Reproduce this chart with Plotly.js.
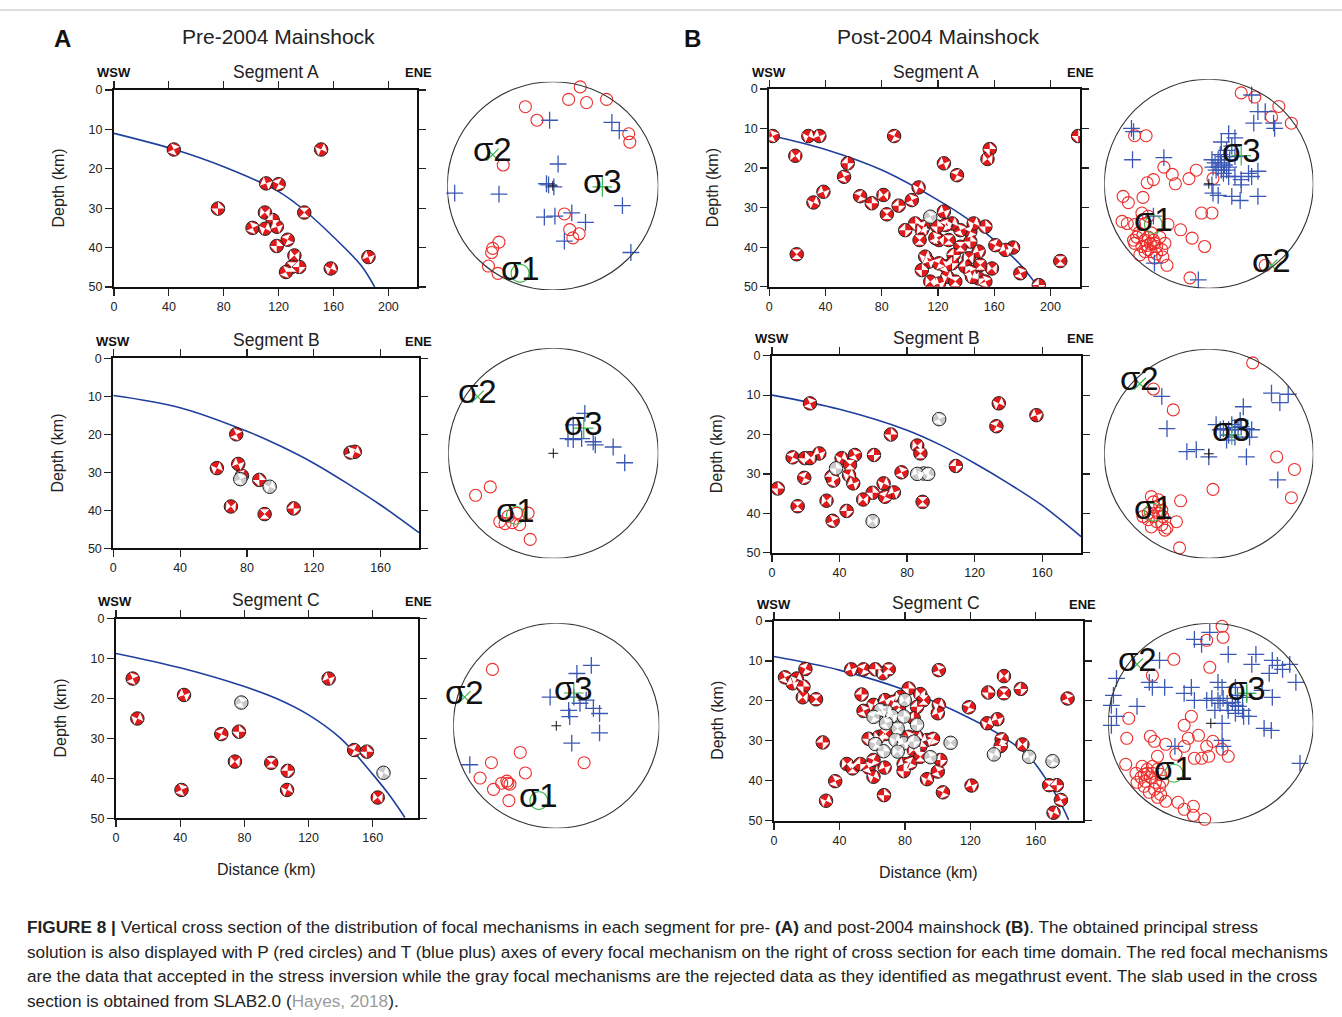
<!DOCTYPE html>
<html><head><meta charset="utf-8">
<script src="https://cdn.plot.ly/plotly-3.0.1.min.js"></script>
<style>html,body{margin:0;padding:0;background:#fff}#chart{width:1342px;height:1017px}</style>
</head><body><div id="chart"></div>
<script>
// ---------------- DATA: cross sections (distance km, depth km) ----------------
const preA_x = [43.6,151,110.9,120,75.8,110,138.7,115.7,101,110.2,118.7,126.6,118.6,131.5,129.5,135,125.4,158,185.5];
const preA_d = [15.1,15.1,23.7,23.9,30.1,31.1,31.1,33,35,35.2,34.7,38,39.6,42,44.9,44.9,46.2,45.3,42.4];
const preA_gx = [];
const preA_gd = [];
const preA_slabX = [0,43,80,120,140,160,180,190];
const preA_slabD = [11,15,19.5,25.8,30.9,37.3,44.5,50];

const preB_x = [73.6,62,74.8,77,87.4,70.4,90.6,108,142,144.6];
const preB_d = [20,28.9,27.8,30.9,32,39,41,39.5,24.8,24.6];
const preB_gx = [76,93.6];
const preB_gd = [31.8,33.8];
const preB_slabX = [0,40,80,100,120,140,160,183];
const preB_slabD = [9.8,13.0,19.2,23.1,27.6,32.9,38.6,45.9];

const preC_x = [10.4,13.3,42.4,65.6,76.6,74.1,96.7,107,40.8,106.6,132.5,148.4,156.3,163.1];
const preC_d = [15,25,19.1,28.9,28.3,35.8,36.1,38.1,42.9,42.9,15,32.9,33.3,44.8];
const preC_gx = [78.1,166.7];
const preC_gd = [21,38.6];
const preC_slabX = [0,40,80,100,120,140,160,170,180];
const preC_slabD = [8.7,12.3,17,20,24.1,30,39,44,49.8];

const postA_x = [2.4,27.8,35.6,88.8,219.7,18.5,19.5,55.8,53.2,31.4,38.5,64.6,72.9,81.2,83.6,92,101.4,106.2,124.2,133.5,156.8,155.2,207,191.7,178.6,173.4,168,160.8,153.7,158.4,150.1,148.9,153.7,144.2,148.9,143,143,141.8,135.9,131.1,135.9,130,124.2,125.4,119.5,120.7,127.6,130,125.4,126.6,120.7,109.7,103.8,108.5,106.9,96.7,118.1,110.9,113.3,120.7,108.5,114.5,132.3,139.4,143,145.4];
const postA_d = [11.9,11.9,11.9,11.9,11.9,16.9,41.8,18.8,22.2,28.7,26,27.1,28.9,26.8,31.7,29.5,28.1,24.9,18.8,21.8,15.2,17.7,43.5,49.6,46.6,40.1,40.7,39.5,34.8,45.4,44.5,47.9,48.7,47.5,41.1,36.1,38.6,42.8,39.9,42,35.7,34,31,34.4,34.8,38.2,38.2,44.1,44.9,47.5,49.2,34.8,34,35.7,38.2,35.7,37.7,42.4,43.7,44.1,45.8,48.7,48.7,44.9,46.2,34];
const postA_gx = [114.5];
const postA_gd = [32.3];
const postA_slabX = [0,40,80,120,140,160,180,191];
const postA_slabD = [11.7,15.3,20.5,28.1,32.6,38.2,45,50];

const postB_x = [22.5,134.3,156.6,132.9,70.4,86,87.9,108.9,76.7,66.1,72.2,66.9,59.6,54,89.2,60.4,49.1,41.2,28,12.2,19.5,22.5,46.2,35.3,36.3,45.6,48.1,19.1,3.4,32.3,15.2,44.2,35.9];
const postB_d = [12.1,12.1,15.1,17.9,20,22.8,24.8,28,29.6,32.4,34.7,35.8,34.8,36.5,37.1,25.2,25.2,26,24.8,25.8,26,26,27.7,30.7,31.7,30.3,32.4,31,33.7,36.8,38.2,39.4,41.9];
const postB_gx = [99,89.9,86,92.5,37.9,59.6];
const postB_gd = [16.1,29.9,30,30,28.6,42];
const postB_slabX = [0,40,80,100,120,140,160,183];
const postB_slabD = [10,13.6,18.9,22.7,27.3,32.4,38,45.9];

const postC_x = [6.7,13.9,11.4,19.2,18,17.6,25.7,29.8,37.4,31.8,47.2,54.7,61.9,66.6,70.1,53.5,54.7,60.8,67.9,73.1,82.3,89.4,91.4,87.4,100.7,100.7,100.1,119.1,130.9,140.5,140.5,150.8,179.4,130.3,136.5,139.1,138.5,151.8,168.1,172.8,175.3,170.8,120.7,103.2,67.2,44.5,48,52.7,57.8,60.8,67.6,60.8,57.8,64.1,68,77.2,82.3,87.4,93.5,97.2,89.4,85.4,89.4,101.7,100.1,93.5,79.2,83.3,79.2,77.2,76.4,85.4];
const postC_d = [14.1,14.4,15.6,12,16.4,19.1,19.6,30.4,40.1,45,12.1,12.1,12.1,13.1,12.1,18.4,22.5,21,19.8,20.2,16.9,18.3,19.8,21.5,12.3,21,23.1,21.6,17.9,13.8,18.1,17,19.4,25.6,24.6,29.6,31.3,30.9,41.1,41.1,44.8,48,41.2,42.9,43.6,35.8,36.9,35.8,36.7,39,36.7,34.8,29.5,29,28.3,28.7,29,29,29.8,29.5,31.5,32.3,34,34.8,37.7,39.6,35.8,35.6,37.6,19,21.6,24.4];
const postC_gx = [65,69,72.1,60.8,79.3,79.9,75.6,87.4,68.4,74.2,79.3,61.9,67,75.6,107.9,85.4,95.6,134.4,155.9,170.2];
const postC_gd = [22.3,22.7,23.8,24,23.9,19.8,26.9,26,25.6,29.8,30.6,30.8,32.6,32.7,30.5,30.2,34.1,33.4,34,35.1];
const postC_slabX = [0,40,80,120,140,156,170,175,180];
const postC_slabD = [8.9,12.3,17.3,24.4,29.0,34,42,45.5,49.8];

// ---------------- DATA: stereonets (normalized projection coords) ----------------
const sA1_Px = [0.26,0.15,0.32,0.51,-0.26,-0.15,0.72,0.73,-0.47,0.11,0.16,0.25,0.19,-0.51,-0.57,-0.58,-0.61,-0.52];
const sA1_Py = [0.95,0.83,0.80,0.83,0.76,0.63,0.50,0.42,0.20,-0.27,-0.42,-0.46,-0.50,-0.54,-0.60,-0.64,-0.77,-0.84];
const sA1_Tx = [-0.03,0.56,0.63,0.05,-0.06,-0.04,0.01,-0.93,-0.51,0.66,-0.08,0.02,0.18,0.31,0.11,0.74];
const sA1_Ty = [0.63,0.61,0.53,0.21,0.02,0.01,-0.01,-0.07,-0.08,-0.19,-0.30,-0.29,-0.26,-0.35,-0.53,-0.64];
const sA1_Sx = [-0.31,-0.57,0.47];
const sA1_Sy = [-0.84,0.30,-0.01];

const sA2_Px = [-0.74,-0.60,-0.51,-0.46,-0.39,-0.32,-0.35,-0.24,-0.22,-0.43];
const sA2_Py = [-0.40,-0.32,-0.65,-0.67,-0.66,-0.68,-0.57,-0.57,-0.82,-0.60];
const sA2_Tx = [0.30,0.19,0.14,0.19,0.27,0.38,0.40,0.57,0.68];
const sA2_Ty = [0.38,0.27,0.14,0.13,0.14,0.11,0.08,0.06,-0.09];
const sA2_Sx = [-0.36,-0.72,0.29];
const sA2_Sy = [-0.59,0.54,0.24];

const sA3_Px = [-0.62,-0.35,-0.63,-0.30,-0.74,-0.61,-0.53,-0.48,-0.47,-0.45,-0.46,0.27];
const sA3_Py = [0.55,-0.26,-0.36,-0.46,-0.51,-0.62,-0.56,-0.54,-0.56,-0.57,-0.73,-0.36];
const sA3_Tx = [0.34,0.20,-0.06,0.17,0.29,0.12,0.36,0.42,0.13,0.42,0.15,-0.84,0.23];
const sA3_Ty = [0.59,0.51,0.28,0.28,0.25,0.15,0.17,0.12,0.09,-0.07,-0.17,-0.38,0.22];
const sA3_Sx = [-0.17,-0.89,0.17];
const sA3_Sy = [-0.73,0.28,0.32];

const sB1_Px = [0.31,0.44,0.67,0.79,0.60,-0.71,-0.60,-0.43,-0.35,-0.32,-0.59,-0.53,-0.19,-0.12,0.04,-0.07,0.03,-0.82,-0.77,-0.63,-0.83,-0.78,-0.71,-0.61,-0.39,-0.27,-0.16,-0.04,-0.44,-0.40,-0.18,0.54,-0.58,-0.64,-0.69,-0.61,-0.55,-0.64,-0.58,-0.50,-0.66,-0.71,-0.67,-0.63,-0.58,-0.56,-0.61,-0.53,-0.59,-0.50,-0.72,-0.55,-0.52,-0.45,-0.42,-0.47,-0.52];
const sB1_Py = [0.87,0.83,0.74,0.58,0.64,0.46,0.46,0.16,0.09,0.00,0.01,0.04,0.05,0.13,0.05,-0.28,-0.28,-0.12,-0.18,-0.13,-0.36,-0.38,-0.39,-0.38,-0.39,-0.44,-0.52,-0.60,-0.70,-0.78,-0.90,-0.78,-0.31,-0.28,-0.51,-0.54,-0.47,-0.60,-0.63,-0.67,-0.68,-0.57,-0.47,-0.49,-0.51,-0.57,-0.65,-0.54,-0.59,-0.60,-0.54,-0.65,-0.71,-0.63,-0.57,-0.51,-0.57];
const sB1_Tx = [0.41,0.47,0.54,0.62,0.63,0.43,-0.74,-0.72,-0.73,-0.43,0.19,0.25,0.12,0.22,0.03,0.06,0.09,0.12,0.15,0.19,0.12,0.17,0.09,0.04,0.07,0.14,0.19,0.25,0.31,0.41,0.47,0.38,0.31,0.03,0.04,0.09,0.22,0.30,0.47,-0.53,-0.52,-0.10,0.15,0.20,0.11,0.25,0.17];
const sB1_Ty = [0.85,0.69,0.69,0.58,0.53,0.58,0.53,0.50,0.23,0.25,0.48,0.44,0.40,0.36,0.23,0.20,0.16,0.20,0.18,0.16,0.13,0.13,0.23,0.16,0.13,0.10,0.07,0.07,0.04,0.07,0.12,0.10,-0.01,-0.01,-0.09,-0.11,-0.12,-0.16,-0.12,-0.31,-0.76,-0.92,0.26,0.23,0.28,0.26,0.32];
const sB1_Sx = [-0.53,0.60,0.31];
const sB1_Sy = [-0.39,-0.78,0.27];

const sB2_Px = [0.42,-0.53,-0.34,0.65,0.82,0.79,0.04,-0.27,-0.28,-0.31,-0.40,-0.55,-0.48,-0.52,-0.58,-0.53,-0.48,-0.45,-0.50,-0.45,-0.42,-0.58,-0.63,-0.55,-0.47,-0.53,-0.44];
const sB2_Py = [0.87,0.62,0.42,-0.03,-0.15,-0.42,-0.34,-0.45,-0.90,-0.65,-0.71,-0.41,-0.44,-0.51,-0.57,-0.60,-0.57,-0.54,-0.65,-0.68,-0.73,-0.63,-0.60,-0.70,-0.49,-0.46,-0.60];
const sB2_Tx = [-0.45,-0.40,-0.21,-0.12,0.00,0.33,0.07,0.14,0.19,0.22,0.25,0.28,0.31,0.36,0.39,0.41,0.19,0.25,0.36,0.60,0.68,0.76,0.66,0.30,0.11,0.17];
const sB2_Ty = [0.55,0.24,0.02,0.04,-0.03,0.45,0.28,0.24,0.23,0.28,0.25,0.23,0.26,0.24,0.16,0.23,0.18,0.16,-0.03,0.58,0.49,0.57,-0.25,0.32,0.23,0.13];
const sB2_Sx = [-0.53,-0.66,0.22];
const sB2_Sy = [-0.56,0.67,0.18];

const sB3_Px = [0.11,0.12,-0.04,-0.36,-0.01,-0.57,-0.80,-0.19,-0.26,-0.12,-0.82,-0.59,-0.55,-0.44,-0.22,-0.04,0.02,0.11,0.17,-0.09,-0.02,-0.83,-0.73,-0.67,-0.62,-0.59,-0.54,-0.65,-0.49,-0.44,-0.32,-0.26,-0.17,-0.17,-0.06,-0.52,-0.34,-0.26,-0.16,-0.62,-0.57,-0.52,-0.49,-0.68,-0.64,-0.55,-0.60,-0.50,-0.47,-0.57,-0.65,-0.52,-0.72];
const sB3_Py = [0.97,0.86,0.83,0.64,0.56,0.48,0.05,0.07,-0.02,-0.12,-0.15,-0.13,-0.18,-0.21,-0.15,-0.23,-0.18,-0.26,-0.33,-0.35,-0.33,-0.41,-0.50,-0.43,-0.50,-0.54,-0.59,-0.63,-0.71,-0.78,-0.79,-0.86,-0.83,-0.92,-0.96,-0.33,-0.31,-0.23,-0.35,-0.46,-0.43,-0.46,-0.51,-0.54,-0.58,-0.66,-0.69,-0.63,-0.58,-0.50,-0.51,-0.74,-0.59];
const sB3_Tx = [-0.01,-0.16,-0.09,0.17,0.44,0.40,0.60,0.65,0.57,0.70,0.77,0.83,-0.50,-0.92,-0.60,-0.57,-0.45,-0.19,-0.26,-0.16,-0.95,-0.97,-0.72,-0.92,-0.97,-0.04,0.01,0.07,0.12,0.09,0.16,0.21,0.24,0.27,0.31,0.17,0.24,0.32,0.37,0.52,0.59,0.11,0.11,0.12,-0.35,0.87,0.24,0.26,0.31,0.07,0.11,0.35,0.60,0.50,0.04];
const sB3_Ty = [0.91,0.84,0.79,0.69,0.69,0.59,0.63,0.58,0.50,0.54,0.59,0.41,0.63,0.45,0.41,0.36,0.36,0.36,0.30,0.23,0.28,0.18,0.17,0.07,-0.02,0.23,0.25,0.23,0.25,0.20,0.20,0.21,0.18,0.17,0.13,0.13,0.10,0.07,0.07,-0.05,-0.07,0.00,-0.17,-0.23,-0.23,-0.40,0.36,0.28,0.26,0.41,0.36,0.30,0.26,0.33,0.13];
const sB3_Sx = [-0.36,-0.72,0.35];
const sB3_Sy = [-0.50,0.59,0.30];

const sigmaLabels = ['σ1','σ2','σ3'];

// ---------------- LAYOUT HELPERS ----------------
const W = 1342, H = 1017;
const FONT = 'Liberation Sans, Arial, Helvetica, sans-serif';
const px = v => v / W;
const py = v => 1 - v / H;
const RED = '#e31a1c', GRAY = '#c9c9c9', SLAB = '#1f3f9c';
const ANG = [20, 70, 115, 160, 45, 95, 0, 135];

const sections = [
  {n:1, box:[114,416.5,90,287], xmax:220.5, seg:'Segment A', x:preA_x, d:preA_d, gx:preA_gx, gd:preA_gd, sx:preA_slabX, sd:preA_slabD, head:[114,276,418,73]},
  {n:2, box:[113.3,419,358.3,548.3], xmax:183, seg:'Segment B', x:preB_x, d:preB_d, gx:preB_gx, gd:preB_gd, sx:preB_slabX, sd:preB_slabD, head:[113,276,418,341]},
  {n:3, box:[116,417.7,618.7,818.3], xmax:188, seg:'Segment C', x:preC_x, d:preC_d, gx:preC_gx, gd:preC_gd, sx:preC_slabX, sd:preC_slabD, head:[115,276,418,601]},
  {n:4, box:[769.3,1080,89,286.7], xmax:221, seg:'Segment A', x:postA_x, d:postA_d, gx:postA_gx, gd:postA_gd, sx:postA_slabX, sd:postA_slabD, head:[769,936,1080,73]},
  {n:5, box:[772,1081,355.7,552.7], xmax:183, seg:'Segment B', x:postB_x, d:postB_d, gx:postB_gx, gd:postB_gd, sx:postB_slabX, sd:postB_slabD, head:[772,936,1080,339]},
  {n:6, box:[774,1083.3,621,820.7], xmax:189, seg:'Segment C', x:postC_x, d:postC_d, gx:postC_gx, gd:postC_gd, sx:postC_slabX, sd:postC_slabD, head:[774,936,1082,604]}
];
const stereos = [
  {n:7,  box:[447.3,658.3,81.7,290],    Px:sA1_Px, Py:sA1_Py, Tx:sA1_Tx, Ty:sA1_Ty, Sx:sA1_Sx, Sy:sA1_Sy},
  {n:8,  box:[448.3,658.3,348.3,558.3], Px:sA2_Px, Py:sA2_Py, Tx:sA2_Tx, Ty:sA2_Ty, Sx:sA2_Sx, Sy:sA2_Sy},
  {n:9,  box:[453.3,659.3,623.3,828.3], Px:sA3_Px, Py:sA3_Py, Tx:sA3_Tx, Ty:sA3_Ty, Sx:sA3_Sx, Sy:sA3_Sy},
  {n:10, box:[1104.3,1313.3,79.3,288.3], Px:sB1_Px, Py:sB1_Py, Tx:sB1_Tx, Ty:sB1_Ty, Sx:sB1_Sx, Sy:sB1_Sy},
  {n:11, box:[1104.3,1313.3,349.3,558.3], Px:sB2_Px, Py:sB2_Py, Tx:sB2_Tx, Ty:sB2_Ty, Sx:sB2_Sx, Sy:sB2_Sy},
  {n:12, box:[1108.3,1313.3,623.3,823.3], Px:sB3_Px, Py:sB3_Py, Tx:sB3_Tx, Ty:sB3_Ty, Sx:sB3_Sx, Sy:sB3_Sy}
];

const traces = [];
const layout = {
  width: W, height: H, margin: {l:0, r:0, t:0, b:0},
  paper_bgcolor: '#fff', plot_bgcolor: '#fff', showlegend: false,
  font: {family: FONT, color: '#222'},
  annotations: [], shapes: []
};
const ax = n => (n === 1 ? '' : n);
// paper-positioned text annotation (pixel coordinates of its centre)
function txt(x, y, text, size, extra) {
  return Object.assign({xref:'paper', yref:'paper', x:px(x), y:py(y), xanchor:'center', yanchor:'middle',
    text:text, showarrow:false, font:{size:size, color:'#222'}}, extra || {});
}

function ballTraces(xs, ds, n, fill) {
  const xa = 'x' + ax(n), ya = 'y' + ax(n);
  traces.push({type:'scatter', mode:'markers', x:xs, y:ds, xaxis:xa, yaxis:ya, hoverinfo:'skip',
    marker:{symbol:'circle', size:13.5, color:fill, line:{color:'#222', width:1}}});
  traces.push({type:'scatter', mode:'markers', x:xs, y:ds, xaxis:xa, yaxis:ya, hoverinfo:'skip',
    marker:{symbol:'hourglass', size:9.5, color:'#fff', angle: xs.map((_, i) => ANG[i % ANG.length]), line:{width:0}}});
}

sections.forEach(s => {
  const [l, r, t, b] = s.box;
  const k = ax(s.n);
  layout['xaxis' + k] = {domain:[px(l), px(r)], range:[0, s.xmax], anchor:'y' + k, tick0:0, dtick:40,
    ticks:'outside', ticklen:7, tickwidth:1.2, tickcolor:'#222', showline:true, linewidth:2, linecolor:'#111',
    mirror:'ticks', showgrid:false, zeroline:false, tickfont:{size:12.5, color:'#222'}, fixedrange:true};
  layout['yaxis' + k] = {domain:[py(b), py(t)], range:[50, 0], anchor:'x' + k, tick0:0, dtick:10,
    ticks:'outside', ticklen:7, tickwidth:1.2, tickcolor:'#222', showline:true, linewidth:2, linecolor:'#111',
    mirror:'ticks', showgrid:false, zeroline:false, tickfont:{size:12.5, color:'#222'}, fixedrange:true};
  traces.push({type:'scatter', mode:'lines', x:s.sx, y:s.sd, xaxis:'x' + k, yaxis:'y' + k, hoverinfo:'skip',
    line:{color:SLAB, width:1.6, shape:'spline', smoothing:1}});
  ballTraces(s.x, s.d, s.n, RED);
  if (s.gx.length) ballTraces(s.gx, s.gd, s.n, GRAY);
  const [hw, hs, he, hy] = s.head;
  layout.annotations.push(
    txt(hw, hy, '<b>WSW</b>', 13, {font:{size:13, color:'#111'}}),
    txt(hs, hy - 1, s.seg, 17.5),
    txt(he, hy, '<b>ENE</b>', 13, {font:{size:13, color:'#111'}}),
    txt(l - 56, (t + b) / 2, 'Depth (km)', 16, {textangle:-90})
  );
});

stereos.forEach(s => {
  const [l, r, t, b] = s.box;
  const k = s.n, xa = 'x' + k, ya = 'y' + k;
  layout['xaxis' + k] = {domain:[px(l), px(r)], range:[-1, 1], anchor:ya, visible:false, fixedrange:true};
  layout['yaxis' + k] = {domain:[py(b), py(t)], range:[-1, 1], anchor:xa, visible:false, fixedrange:true};
  layout.shapes.push({type:'circle', xref:xa, yref:ya, x0:-1, x1:1, y0:-1, y1:1, line:{color:'#333', width:1.1}});
  traces.push({type:'scatter', mode:'markers', x:s.Px, y:s.Py, xaxis:xa, yaxis:ya, hoverinfo:'skip', cliponaxis:false,
    marker:{symbol:'circle-open', size:12, color:'#ec2d2a', line:{width:1.1}}});
  traces.push({type:'scatter', mode:'markers', x:s.Tx, y:s.Ty, xaxis:xa, yaxis:ya, hoverinfo:'skip', cliponaxis:false,
    marker:{symbol:'cross-thin-open', size:12, color:'#3a58b4', line:{width:1.3, color:'#3a58b4'}}});
  traces.push({type:'scatter', mode:'markers', x:[0], y:[0], xaxis:xa, yaxis:ya, hoverinfo:'skip',
    marker:{symbol:'cross-thin-open', size:7, color:'#111', line:{width:1, color:'#111'}}});
  traces.push({type:'scatter', mode:'markers', x:[s.Sx[0]], y:[s.Sy[0]], xaxis:xa, yaxis:ya, hoverinfo:'skip', cliponaxis:false,
    marker:{symbol:'circle-open', size:18, color:'#3cb44b', line:{width:1.1}}});
  traces.push({type:'scatter', mode:'markers', x:[s.Sx[1]], y:[s.Sy[1]], xaxis:xa, yaxis:ya, hoverinfo:'skip', cliponaxis:false,
    marker:{symbol:'x-thin-open', size:12, color:'#3cb44b', line:{width:1.2, color:'#3cb44b'}}});
  traces.push({type:'scatter', mode:'markers', x:[s.Sx[2]], y:[s.Sy[2]], xaxis:xa, yaxis:ya, hoverinfo:'skip', cliponaxis:false,
    marker:{symbol:'cross-thin-open', size:14, color:'#3cb44b', line:{width:1.2, color:'#3cb44b'}}});
  sigmaLabels.forEach((lab, i) => {
    layout.annotations.push({xref:xa, yref:ya, x:s.Sx[i], y:s.Sy[i], xanchor:'center', yanchor:'middle',
      text:lab, showarrow:false, yshift:5, font:{size:33, color:'#111'}});
  });
});

// Axis titles and headers
layout.annotations.push(
  txt(266, 869, 'Distance (km)', 16),
  txt(928, 872, 'Distance (km)', 16),
  txt(62, 38, '<b>A</b>', 24, {font:{size:24, color:'#111'}}),
  txt(278, 36, 'Pre-2004 Mainshock', 21),
  txt(692, 38, '<b>B</b>', 24, {font:{size:24, color:'#111'}}),
  txt(938, 36, 'Post-2004 Mainshock', 21)
);

// Caption
const capLines = [
  '<b>FIGURE 8 |</b> Vertical cross section of the distribution of focal mechanisms in each segment for pre- <b>(A)</b> and post-2004 mainshock <b>(B)</b>. The obtained principal stress',
  'solution is also displayed with P (red circles) and T (blue plus) axes of every focal mechanism on the right of cross section for each time domain. The red focal mechanisms',
  'are the data that accepted in the stress inversion while the gray focal mechanisms are the rejected data as they identified as megathrust event. The slab used in the cross',
  'section is obtained from SLAB2.0 (<span style="color:#9a9a9a">Hayes, 2018</span>).'
];
const capY = [927, 952, 976, 1001];
capLines.forEach((t, i) => layout.annotations.push(txt(25, capY[i], t, 17.2, {xanchor:'left', font:{size:17.2, color:'#222'}})));

layout.shapes.push({type:'line', xref:'paper', yref:'paper', x0:0, x1:1, y0:py(10), y1:py(10), line:{color:'#bbb', width:1}});

Plotly.newPlot('chart', traces, layout, {staticPlot:true, displayModeBar:false});
</script></body></html>
